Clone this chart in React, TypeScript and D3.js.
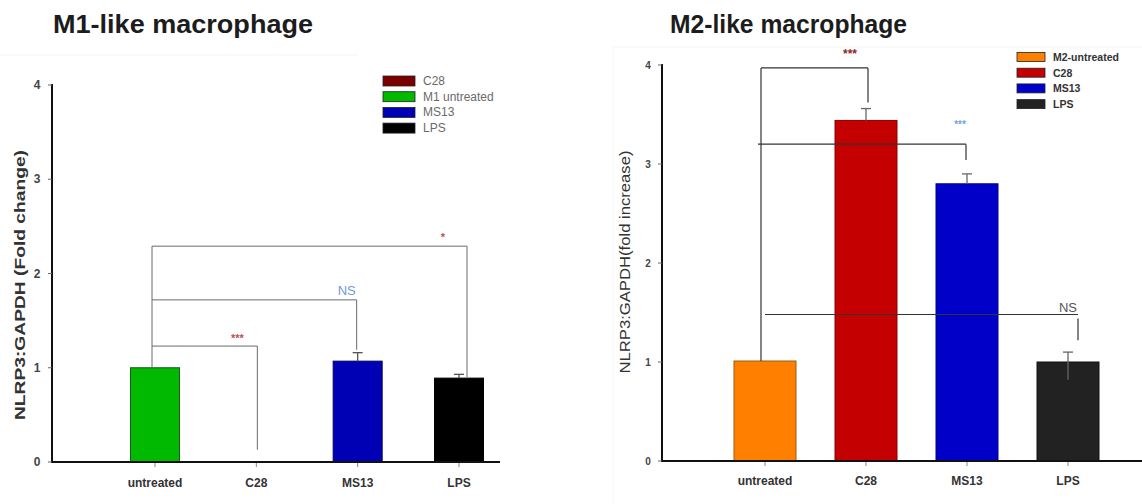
import React from "react";
import * as d3 from "d3";

// ---- data ----
const categories = ["untreated", "C28", "MS13", "LPS"];
const yTicks = [0, 1, 2, 3, 4];

const m1Values = [1.0, 0, 1.07, 0.89];
const m1Errors = [0, 0, 0.09, 0.04];
const m1Colors = ["#00b900", "#7a0000", "#0000b4", "#000000"];
const m1LegendLabels = ["C28", "M1 untreated", "MS13", "LPS"];
const m1LegendColors = ["#7a0000", "#00b900", "#0000b4", "#000000"];

const m2Values = [1.01, 3.44, 2.8, 1.0];
const m2Errors = [0, 0.12, 0.1, 0.1];
const m2Colors = ["#ff8000", "#c40000", "#0000c8", "#222222"];
const m2LegendLabels = ["M2-untreated", "C28", "MS13", "LPS"];

// significance brackets: baseline group vs. "to", horizontal level, right drop range, label
const m1Brackets = [
  { to: "C28", level: 1.23, dropTop: 1.23, dropBottom: 0.13, label: "***", labelLevel: 1.36 },
  { to: "MS13", level: 1.72, dropTop: 1.72, dropBottom: 1.19, label: "NS", labelLevel: 1.83 },
  { to: "LPS", level: 2.29, dropTop: 2.29, dropBottom: 0.9, label: "*", labelLevel: 2.43 },
];
const m2Brackets = [
  { to: "C28", level: 3.97, dropTop: 3.97, dropBottom: 3.62, label: "***", labelLevel: 4.15 },
  { to: "MS13", level: 3.2, dropTop: 3.2, dropBottom: 3.04, label: "***", labelLevel: 3.44 },
  { to: "LPS", level: 1.48, dropTop: 1.44, dropBottom: 1.22, label: "NS", labelLevel: 1.56 },
];

const FONT = "'Liberation Sans', Arial, sans-serif";

type Bracket = {
  to: string;
  level: number;
  dropTop: number;
  dropBottom: number;
  label: string;
  labelLevel: number;
};

type BracketStyle = {
  leftDx: number;
  rightDx: number;
  labelDx: number;
  labelColor: string;
  labelSize: number;
};

type PanelProps = {
  title: string;
  titleX: number;
  titleWidth: number;
  yLabel: string;
  yLabelX: number;
  yLabelY: number;
  yLabelLength: number;
  yLabelWeight: string;
  axisX: number;
  axisRight: number;
  yTop: number;
  yBottom: number;
  xFirst: number;
  xLast: number;
  barWidth: number;
  values: number[];
  errors: number[];
  lowerErrors: number[];
  colors: string[];
  barStroke: string[];
  brackets: Bracket[];
  bracketStyles: BracketStyle[];
  bracketColor: string;
  bracketWidth: number;
  rootDx: number;
  legendLabels: string[];
  legendColors: string[];
  legendX: number;
  legendY: number;
  legendStep: number;
  legendW: number;
  legendH: number;
  legendFont: number;
  legendWeight: string;
  legendColor: string;
  tickLabelX: number;
  tickFont: number;
  xLabelY: number;
  errorColor: string;
};

function Panel(p: PanelProps) {
  const y = d3.scaleLinear().domain([0, 4]).range([p.yBottom, p.yTop]);
  const x = d3.scalePoint<string>().domain(categories).range([p.xFirst, p.xLast]);
  const x0 = x(categories[0]) as number;
  const rootX = x0 + p.rootDx;
  const topLevel = d3.max(p.brackets, (b) => b.level) as number;

  return (
    <g>
      <text
        x={p.titleX}
        y={33}
        fontFamily={FONT}
        fontWeight="bold"
        fontSize={25}
        fill="#1c1c1c"
        textLength={p.titleWidth}
        lengthAdjust="spacingAndGlyphs"
      >
        {p.title}
      </text>

      {/* bars */}
      {categories.map((c, i) =>
        p.values[i] > 0 ? (
          <rect
            key={c}
            x={(x(c) as number) - p.barWidth / 2}
            y={y(p.values[i])}
            width={p.barWidth}
            height={y(0) - y(p.values[i])}
            fill={p.colors[i]}
            stroke={p.barStroke[i]}
            strokeWidth={1}
          />
        ) : null
      )}

      {/* error bars */}
      {categories.map((c, i) =>
        p.errors[i] > 0 ? (
          <g key={"e" + c} stroke={p.errorColor} strokeWidth={1.3}>
            <line
              x1={x(c) as number}
              x2={x(c) as number}
              y1={y(p.values[i] + p.errors[i])}
              y2={y(p.values[i] - p.lowerErrors[i])}
            />
            <line
              x1={(x(c) as number) - 5}
              x2={(x(c) as number) + 5}
              y1={y(p.values[i] + p.errors[i])}
              y2={y(p.values[i] + p.errors[i])}
            />
          </g>
        ) : null
      )}

      {/* significance brackets */}
      <line
        x1={rootX}
        x2={rootX}
        y1={y(topLevel)}
        y2={y(p.values[0])}
        stroke={p.bracketColor}
        strokeWidth={p.bracketWidth}
      />
      {p.brackets.map((b, i) => {
        const s = p.bracketStyles[i];
        const xr = (x(b.to) as number) + s.rightDx;
        return (
          <g key={"b" + i}>
            <line
              x1={x0 + s.leftDx}
              x2={xr}
              y1={y(b.level)}
              y2={y(b.level)}
              stroke={p.bracketColor}
              strokeWidth={p.bracketWidth}
            />
            <line
              x1={xr}
              x2={xr}
              y1={y(b.dropTop)}
              y2={y(b.dropBottom)}
              stroke={p.bracketColor}
              strokeWidth={p.bracketWidth}
            />
            <text
              x={xr + s.labelDx}
              y={y(b.labelLevel) + (b.label === "NS" ? 5 : 8)}
              textAnchor="middle"
              fontFamily={FONT}
              fontSize={s.labelSize}
              fontWeight={b.label === "NS" ? "normal" : "bold"}
              fill={s.labelColor}
            >
              {b.label}
            </text>
          </g>
        );
      })}

      {/* axes */}
      <line x1={p.axisX} x2={p.axisX} y1={y(4) - 1} y2={y(0) + 1} stroke="#111" strokeWidth={2} />
      <line x1={p.axisX - 1} x2={p.axisRight} y1={y(0)} y2={y(0)} stroke="#111" strokeWidth={2} />
      {yTicks.map((t) => (
        <g key={"t" + t}>
          <line x1={p.axisX - 4} x2={p.axisX} y1={y(t)} y2={y(t)} stroke="#666" strokeWidth={1} />
          <text
            x={p.tickLabelX}
            y={y(t) + 4}
            textAnchor="middle"
            fontFamily={FONT}
            fontWeight="bold"
            fontSize={p.tickFont}
            fill="#444"
          >
            {t}
          </text>
        </g>
      ))}
      {categories.map((c) => (
        <g key={"x" + c}>
          <line
            x1={x(c) as number}
            x2={x(c) as number}
            y1={y(0) + 1}
            y2={y(0) + 5}
            stroke="#888"
            strokeWidth={1}
          />
          <text
            x={x(c) as number}
            y={p.xLabelY}
            textAnchor="middle"
            fontFamily={FONT}
            fontWeight="bold"
            fontSize={12}
            fill="#333"
          >
            {c}
          </text>
        </g>
      ))}

      <text
        transform={`translate(${p.yLabelX},${p.yLabelY}) rotate(-90)`}
        textAnchor="middle"
        fontFamily={FONT}
        fontWeight={p.yLabelWeight}
        fontSize={14}
        fill="#333"
        textLength={p.yLabelLength}
        lengthAdjust="spacingAndGlyphs"
      >
        {p.yLabel}
      </text>

      {/* legend */}
      {p.legendLabels.map((l, i) => (
        <g key={"l" + l}>
          <rect
            x={p.legendX}
            y={p.legendY + i * p.legendStep - p.legendH / 2}
            width={p.legendW}
            height={p.legendH}
            fill={p.legendColors[i]}
            stroke="#222"
            strokeWidth={0.8}
          />
          <text
            x={p.legendX + p.legendW + 8}
            y={p.legendY + i * p.legendStep + 4}
            fontFamily={FONT}
            fontWeight={p.legendWeight}
            fontSize={p.legendFont}
            fill={p.legendColor}
          >
            {l}
          </text>
        </g>
      ))}
    </g>
  );
}

export default function App() {
  return (
    <svg width={1142} height={504} style={{ position: "absolute", left: 0, top: 0, background: "#fff" }}>
      <line x1={0} x2={358} y1={55} y2={55} stroke="#f4f4f4" strokeWidth={1} />
      <rect x={613} y={47} width={540} height={470} fill="none" stroke="#f6f6f6" strokeWidth={1} />
      <Panel
        title="M1-like macrophage"
        titleX={53}
        titleWidth={260}
        yLabel="NLRP3:GAPDH (Fold change)"
        yLabelX={25}
        yLabelY={285}
        yLabelLength={270}
        yLabelWeight="bold"
        axisX={52}
        axisRight={500}
        yTop={85}
        yBottom={462}
        xFirst={155}
        xLast={459}
        barWidth={49}
        values={m1Values}
        errors={m1Errors}
        lowerErrors={[0, 0, 0, 0]}
        colors={m1Colors}
        barStroke={["#1a5a1a", "none", "#00005a", "#000"]}
        brackets={m1Brackets}
        bracketStyles={[
          { leftDx: -3, rightDx: 1, labelDx: -20, labelColor: "#c0504d", labelSize: 11 },
          { leftDx: -3, rightDx: -1, labelDx: -10, labelColor: "#6f9bd6", labelSize: 13 },
          { leftDx: -3, rightDx: 8, labelDx: -24, labelColor: "#c0504d", labelSize: 11 },
        ]}
        bracketColor="#6a6a6a"
        bracketWidth={1}
        rootDx={-3}
        legendLabels={m1LegendLabels}
        legendColors={m1LegendColors}
        legendX={383}
        legendY={81}
        legendStep={15.7}
        legendW={32}
        legendH={10}
        legendFont={12}
        legendWeight="normal"
        legendColor="#6a6a6a"
        tickLabelX={37}
        tickFont={12}
        xLabelY={487}
        errorColor="#555"
      />
      <Panel
        title="M2-like macrophage"
        titleX={670}
        titleWidth={237}
        yLabel="NLRP3:GAPDH(fold increase)"
        yLabelX={630}
        yLabelY={262}
        yLabelLength={223}
        yLabelWeight="normal"
        axisX={662}
        axisRight={1142}
        yTop={65}
        yBottom={461}
        xFirst={765}
        xLast={1068}
        barWidth={62}
        values={m2Values}
        errors={m2Errors}
        lowerErrors={[0, 0, 0, 0.18]}
        colors={m2Colors}
        barStroke={["#9a5a10", "#8a0000", "#00008a", "#111"]}
        brackets={m2Brackets}
        bracketStyles={[
          { leftDx: -4, rightDx: 2, labelDx: -18, labelColor: "#8a2a2a", labelSize: 12 },
          { leftDx: -7, rightDx: -1, labelDx: -6, labelColor: "#7aa3da", labelSize: 10 },
          { leftDx: 0, rightDx: 10, labelDx: -10, labelColor: "#555", labelSize: 13 },
        ]}
        bracketColor="#333"
        bracketWidth={1.2}
        rootDx={-4}
        legendLabels={m2LegendLabels}
        legendColors={m2Colors}
        legendX={1017}
        legendY={57}
        legendStep={15.7}
        legendW={28}
        legendH={9}
        legendFont={10.5}
        legendWeight="bold"
        legendColor="#333"
        tickLabelX={648}
        tickFont={10}
        xLabelY={485}
        errorColor="#666"
      />
    </svg>
  );
}
